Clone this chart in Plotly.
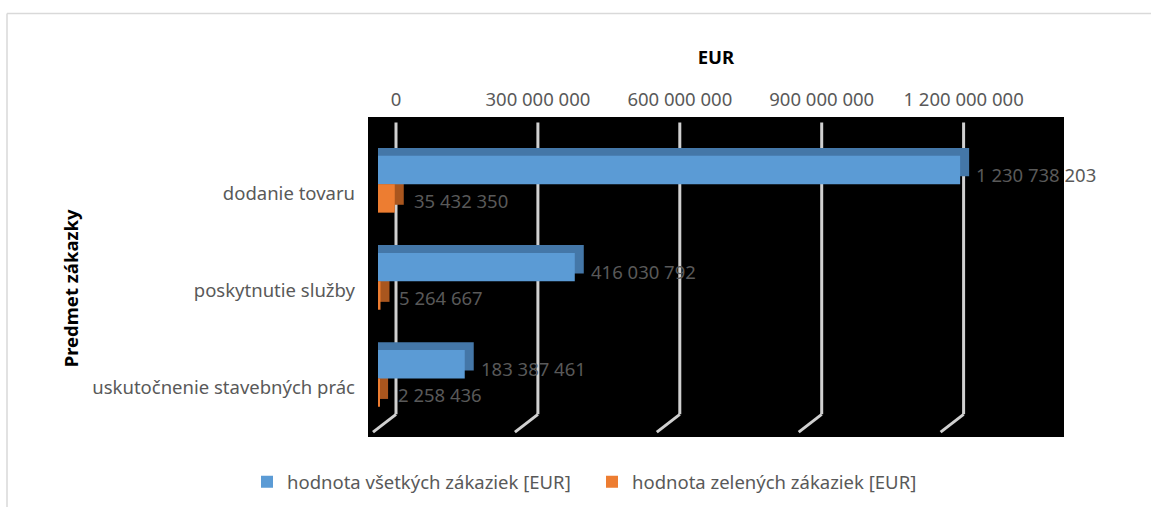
import plotly.graph_objects as go

# data
categories = ["dodanie tovaru", "poskytnutie služby", "uskutočnenie stavebných prác"]
vsetky = [1230738203, 416030792, 183387461]
zelene = [35432350, 5264667, 2258436]
series_names = ["hodnota všetkých zákaziek [EUR]", "hodnota zelených zákaziek [EUR]"]
tick_vals = [0, 300000000, 600000000, 900000000, 1200000000]

# page geometry (px)
W, H = 1151, 513
L, R, T, B = 368, 1064, 117, 442
PX_PER_EUR = 473 / 1e9
CAT_PX = 98.6
FRONT_ZERO = 378
DX, DY = 9, 8          # fake 3d depth
GRID_ZERO = 396

FONT = "Noto Sans"
GRAY = "#595959"
front_colors = ["#5b9bd5", "#ed7d31"]
side_colors = ["#4477a8", "#a9561e"]


def x_range(zero_px):
    return [(L - zero_px) / PX_PER_EUR, (R - zero_px) / PX_PER_EUR]


def y_range(center_px):
    top = -(center_px - T) / CAT_PX
    return [top + (B - T) / CAT_PX, top]


def fmt(v):
    return f"{v:,}".replace(",", " ")


def py(px):  # page y -> paper fraction
    return (B - px) / (B - T)


def px_(x):  # page x -> paper fraction
    return (x - L) / (R - L)


fig = go.Figure()
series = [vsetky, zelene]
depth = DX / PX_PER_EUR

# darker back faces first (base subplot), then front faces on overlay
for vals, col in zip(series, side_colors):
    fig.add_trace(go.Bar(
        y=categories, x=[v + depth for v in vals], base=-depth,
        orientation="h", marker=dict(color=col, line=dict(width=0)),
        showlegend=False, hoverinfo="skip", xaxis="x", yaxis="y",
    ))
for vals, col, name in zip(series, front_colors, series_names):
    fig.add_trace(go.Bar(
        y=categories, x=vals, name=name, orientation="h",
        marker=dict(color=col, line=dict(width=0)),
        xaxis="x2", yaxis="y2",
    ))

front_center = 185.3
fig.update_layout(
    width=W, height=H,
    margin=dict(l=L, r=W - R, t=T, b=H - B),
    paper_bgcolor="white", plot_bgcolor="black",
    barmode="group", bargap=0.415, bargroupgap=0,
    separators=", ",
    font=dict(family=FONT, size=18.5, color=GRAY),
    xaxis=dict(range=x_range(FRONT_ZERO + DX), visible=False, fixedrange=True),
    yaxis=dict(range=y_range(front_center - DY), type="category",
               categoryorder="array", categoryarray=categories, visible=False),
    xaxis2=dict(range=x_range(FRONT_ZERO), overlaying="x", anchor="y2",
                visible=False),
    yaxis2=dict(range=y_range(front_center), type="category", overlaying="y",
                categoryorder="array", categoryarray=categories,
                showgrid=False, zeroline=False, showline=False, ticks="",
                ticklabelstandoff=12, ticklabelshift=-9,
                tickfont=dict(family=FONT, size=18.5, color=GRAY)),
    xaxis3=dict(range=x_range(GRID_ZERO), overlaying="x", anchor="y2", side="top",
                tickvals=tick_vals, tickformat=",d", ticks="", showgrid=False,
                zeroline=False, showline=False, ticklabelstandoff=6,
                tickfont=dict(family=FONT, size=18.5, color=GRAY),
                title=dict(text="EUR", standoff=16,
                           font=dict(family=FONT, size=18.5, color="black",
                                     weight="bold"))),
    legend=dict(orientation="h", x=px_(247), xanchor="left", y=py(488),
                yanchor="middle", entrywidth=300, entrywidthmode="pixels",
                font=dict(family=FONT, size=18.5, color=GRAY)),
)

# y axis title, placed lower than the plot middle as in the original
fig.add_annotation(text="Predmet zákazky", textangle=-90, showarrow=False,
                   xref="paper", yref="paper", x=px_(70), y=py(291),
                   xanchor="center", yanchor="middle",
                   font=dict(family=FONT, size=18.5, color="black", weight="bold"))

# back-wall gridlines with a bend onto the floor
shapes = []
for v in tick_vals:
    common = dict(type="line", xref="x3", yref="paper", xsizemode="pixel",
                  xanchor=v, layer="below",
                  line=dict(color="#d0d0d0", width=3))
    shapes.append(dict(common, x0=0, x1=0, y0=py(122.5), y1=py(419)))
    shapes.append(dict(common, x0=0, x1=-23, y0=py(419), y1=py(437)))

# chart area frame (top and left edges visible)
frame = dict(color="#d9d9d9", width=1.5)
shapes.append(dict(type="line", xref="paper", yref="paper", x0=px_(7), x1=px_(W),
                   y0=py(12), y1=py(12), line=frame))
shapes.append(dict(type="line", xref="paper", yref="paper", x0=px_(7), x1=px_(7),
                   y0=py(12), y1=py(H), line=frame))
fig.update_layout(shapes=shapes)

# value labels
yshifts = [10, -16]
xshifts = [14, 17]
for vals, ys, xs in zip(series, yshifts, xshifts):
    for cat, v in zip(categories, vals):
        fig.add_annotation(x=v, y=cat, xref="x2", yref="y2", text=fmt(v),
                           showarrow=False, xanchor="left", yanchor="middle",
                           xshift=xs, yshift=ys,
                           font=dict(family=FONT, size=18.5, color=GRAY))

fig.write_html("out.html", config={"displayModeBar": False},
               post_script="document.body.style.margin='0';")
